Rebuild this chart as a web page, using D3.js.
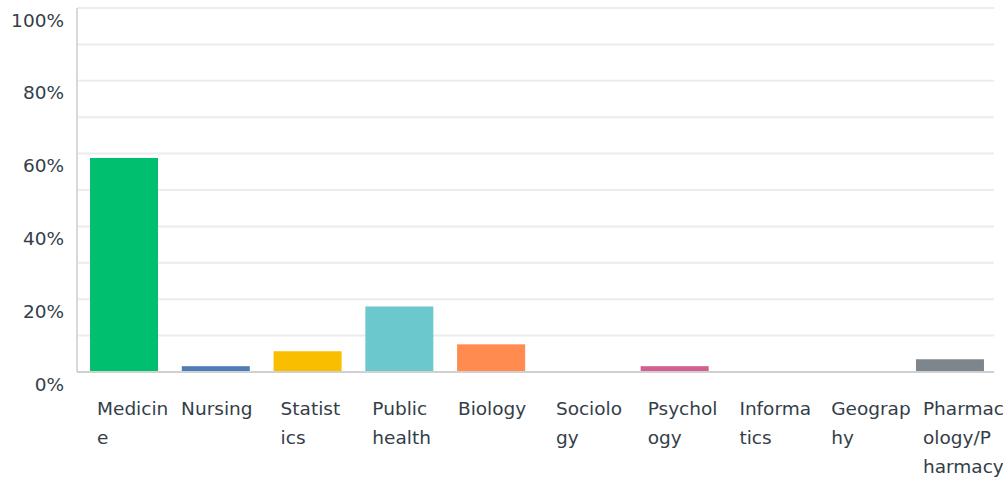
<!DOCTYPE html>
<html>
<head>
<meta charset="utf-8">
<script src="https://cdn.jsdelivr.net/npm/d3@7"></script>
<style>
  body { margin: 0; background: #fff; }
  svg text { font-family: "DejaVu Sans", sans-serif; fill: #333e48; }
</style>
</head>
<body>
<svg id="canvas"></svg>
<script>
// chart data
const categories = ['Medicine', 'Nursing', 'Statistics', 'Public health', 'Biology',
  'Sociology', 'Psychology', 'Informatics', 'Geography', 'Pharmacology/Pharmacy'];
const values = [58.8, 1.6, 5.7, 18.0, 7.6, 0, 1.6, 0, 0, 3.5];
const colors = ['#00bf6f', '#507cb6', '#f9be00', '#6bc8cd', '#ff8b4f',
  '#a05db6', '#d25f90', '#dac100', '#b7bfc7', '#7d868c'];
const yTicks = [0, 10, 20, 30, 40, 50, 60, 70, 80, 90, 100];
const yLabelTicks = [0, 20, 40, 60, 80, 100];

const width = 1003;
const height = 480;
const margin = { top: 8, right: 6, bottom: 108, left: 77 };
const gridRight = 917;

let canvas = d3.select('#canvas')
  .attr('width', width)
  .attr('height', height);

let g = canvas.append('g')
  .attr('transform', `translate(${margin.left}, ${margin.top})`);

const innerW = width - margin.left - margin.right;
const innerH = height - margin.top - margin.bottom;

let xScale = d3.scaleBand()
  .domain(categories)
  .range([0, innerW])
  .paddingInner(0.259)
  .paddingOuter(0.142);

let yScale = d3.scaleLinear()
  .domain([0, 100])
  .range([innerH, 0]);

// gridlines
g.selectAll('.grid')
  .data(yTicks.filter(t => t > 0))
  .enter()
  .append('line')
  .attr('class', 'grid')
  .attr('x1', 0)
  .attr('x2', gridRight)
  .attr('y1', d => yScale(d))
  .attr('y2', d => yScale(d))
  .attr('stroke', '#ececec')
  .attr('stroke-width', 2);

// y labels, sitting just under their gridline
let yAxis = d3.axisLeft(yScale)
  .tickValues(yLabelTicks)
  .tickSize(0)
  .tickFormat(d => d + '%');

g.append('g')
  .call(yAxis)
  .call(ax => ax.select('.domain').remove())
  .selectAll('text')
  .attr('x', -13)
  .attr('dy', 18)
  .style('font-family', '"DejaVu Sans", sans-serif')
  .style('font-size', '18.5px')
  .style('fill', '#333e48');

// bars
g.selectAll('.bar')
  .data(categories)
  .enter()
  .append('rect')
  .attr('class', 'bar')
  .attr('x', d => xScale(d))
  .attr('width', xScale.bandwidth())
  .attr('y', (d, i) => yScale(values[i]))
  .attr('height', (d, i) => innerH - yScale(values[i]))
  .attr('fill', (d, i) => colors[i]);

// axis lines
g.append('line')
  .attr('x1', 0).attr('x2', 0)
  .attr('y1', 0).attr('y2', innerH)
  .attr('stroke', '#d9d9d9')
  .attr('stroke-width', 2);

g.append('line')
  .attr('x1', 0).attr('x2', gridRight)
  .attr('y1', innerH).attr('y2', innerH)
  .attr('stroke', '#d0d0d0')
  .attr('stroke-width', 2);

// wrap a label into lines of at most 7 characters, breaking at spaces first
let wrapLabel = (label) => {
  let lines = [];
  label.split(' ').forEach(word => {
    while (word.length > 7) {
      lines.push(word.slice(0, 7));
      word = word.slice(7);
    }
    if (word.length) lines.push(word);
  });
  return lines;
};

let xAxis = d3.axisBottom(xScale).tickSize(0);

let xg = g.append('g')
  .attr('transform', `translate(0, ${innerH})`)
  .call(xAxis);
xg.select('.domain').remove();

xg.selectAll('.tick text').each(function (d) {
  let lines = wrapLabel(d);
  let t = d3.select(this)
    .text(null)
    .attr('y', 0)
    .attr('dy', null)
    .style('font-family', '"DejaVu Sans", sans-serif')
    .style('font-size', '18.5px')
    .style('fill', '#333e48');
  let multi = lines.length > 1;
  t.attr('text-anchor', multi ? 'start' : 'middle');
  let x0 = multi ? -xScale.bandwidth() / 2 + 7 : 1;
  lines.forEach((line, i) => {
    t.append('tspan')
      .attr('x', x0)
      .attr('y', 43 + i * 29)
      .text(line);
  });
});
</script>
</body>
</html>
